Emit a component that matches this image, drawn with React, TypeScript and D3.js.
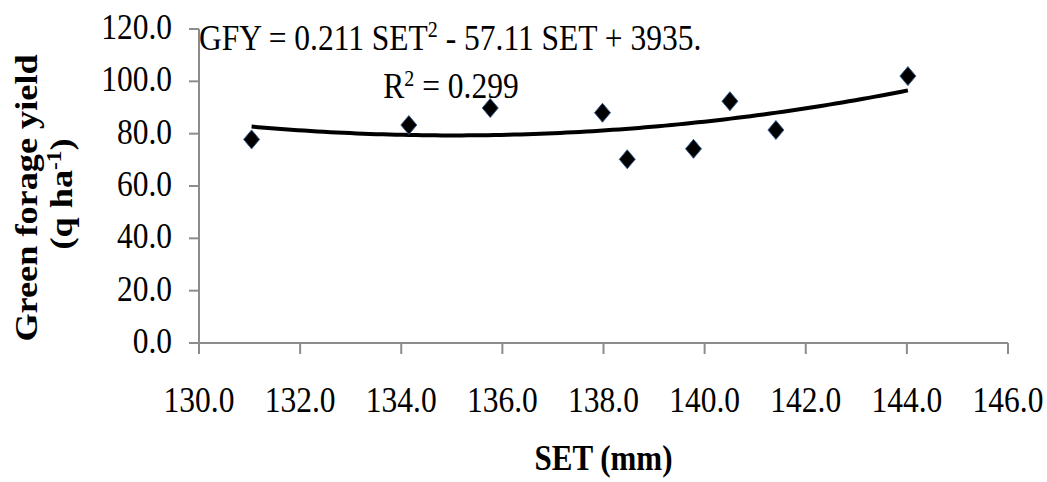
import React from "react";
import * as d3 from "d3";

// values
const setValues = [131.04, 134.15, 135.76, 137.98, 138.47, 139.78, 140.5, 141.41, 144.02];
const gfyValues = [77.8, 83.3, 89.8, 88.0, 70.2, 74.2, 92.4, 81.4, 102.0];
const xTicks = [130, 132, 134, 136, 138, 140, 142, 144, 146];
const yTicks = [0, 20, 40, 60, 80, 100, 120];

const width = 1047;
const height = 482;
const marginLeft = 199;
const marginRight = 39;
const marginTop = 29;
const marginBottom = 139;

const serif = "'Liberation Serif', 'Times New Roman', serif";
const axisColor = "#8c8c8c";
const stretch = 1.17;

// least squares quadratic (same as the spreadsheet trendline)
function fitQuadratic(xs: number[], ys: number[]) {
  const mx = d3.mean(xs) as number;
  const s = [0, 0, 0, 0, 0];
  const t = [0, 0, 0];
  xs.forEach((x, i) => {
    const u = x - mx;
    for (let k = 0; k < 5; k++) s[k] += Math.pow(u, k);
    for (let k = 0; k < 3; k++) t[k] += ys[i] * Math.pow(u, k);
  });
  const m = [
    [s[0], s[1], s[2], t[0]],
    [s[1], s[2], s[3], t[1]],
    [s[2], s[3], s[4], t[2]],
  ];
  for (let c = 0; c < 3; c++) {
    for (let r = c + 1; r < 3; r++) {
      const f = m[r][c] / m[c][c];
      for (let k = c; k < 4; k++) m[r][k] -= f * m[c][k];
    }
  }
  const b = [0, 0, 0];
  for (let r = 2; r >= 0; r--) {
    let v = m[r][3];
    for (let k = r + 1; k < 3; k++) v -= m[r][k] * b[k];
    b[r] = v / m[r][r];
  }
  return (x: number) => b[0] + b[1] * (x - mx) + b[2] * (x - mx) * (x - mx);
}

const App = () => {
  const x = d3.scaleLinear().domain([130, 146]).range([marginLeft, width - marginRight]);
  const y = d3.scaleLinear().domain([0, 120]).range([height - marginBottom, marginTop]);

  const trend = fitQuadratic(setValues, gfyValues);
  const [xMin, xMax] = d3.extent(setValues) as [number, number];
  const curve = d3.range(0, 101).map((i) => xMin + ((xMax - xMin) * i) / 100);
  const line = d3
    .line<number>()
    .x((d) => x(d))
    .y((d) => y(trend(d)));

  const diamond = "M0,-9.5L8,0L0,9.5L-8,0Z";

  return (
    <svg
      width={width}
      height={height}
      viewBox={`0 0 ${width} ${height}`}
      style={{ position: "absolute", left: 0, top: 0, background: "#fff" }}
    >
      {/* axes */}
      <g stroke={axisColor} strokeWidth={2} fill="none">
        <line x1={x(130)} x2={x(146)} y1={y(0)} y2={y(0)} />
        <line x1={x(130)} x2={x(130)} y1={y(0)} y2={y(120)} />
        {xTicks.map((t) => (
          <line key={"xt" + t} x1={x(t)} x2={x(t)} y1={y(0)} y2={y(0) + 11} />
        ))}
        {yTicks.map((t) => (
          <line key={"yt" + t} x1={x(130) - 10} x2={x(130)} y1={y(t)} y2={y(t)} />
        ))}
      </g>

      {/* tick labels */}
      <g fontFamily={serif} fontSize={31.5} fill="#000">
        {xTicks.map((t) => (
          <text
            key={"xl" + t}
            textAnchor="middle"
            transform={`translate(${x(t)},${y(0) + 69}) scale(1,${stretch})`}
          >
            {t.toFixed(1)}
          </text>
        ))}
        {yTicks.map((t) => (
          <text
            key={"yl" + t}
            textAnchor="end"
            transform={`translate(${x(130) - 27},${y(t) + 10}) scale(1,${stretch})`}
          >
            {t.toFixed(1)}
          </text>
        ))}
      </g>

      {/* axis titles */}
      <g fontFamily={serif} fontSize={31} fontWeight="bold" fill="#000">
        <text textAnchor="middle" transform={`translate(${(x(130) + x(146)) / 2},470) scale(1,${stretch})`}>
          SET (mm)
        </text>
        <text textAnchor="middle" transform={`translate(37,198) scale(1,${stretch}) rotate(-90)`}>
          Green forage yield
        </text>
        <text textAnchor="middle" transform={`translate(72,194) scale(1,${stretch}) rotate(-90)`}>
          (q ha
          <tspan fontSize={20} dy={-11}>
            -1
          </tspan>
          <tspan dy={11}>)</tspan>
        </text>
      </g>

      {/* trendline */}
      <path d={line(curve) as string} fill="none" stroke="#000" strokeWidth={4} />

      {/* points */}
      <g fill="#000" stroke="#3a5f8f" strokeWidth={1}>
        {setValues.map((v, i) => (
          <path key={"p" + i} d={diamond} transform={`translate(${x(v)},${y(gfyValues[i])})`} />
        ))}
      </g>

      {/* equation */}
      <g fontFamily={serif} fontSize={31.5} fill="#000">
        <text transform={`translate(199,50) scale(1,${stretch})`}>
          GFY = 0.211 SET
          <tspan fontSize={20} dy={-11}>
            2
          </tspan>
          <tspan dy={11}> - 57.11 SET + 3935.</tspan>
        </text>
        <text textAnchor="middle" transform={`translate(451,98) scale(1,${stretch})`}>
          R
          <tspan fontSize={20} dy={-10}>
            2
          </tspan>
          <tspan dy={10}> = 0.299</tspan>
        </text>
      </g>
    </svg>
  );
};

export default App;
